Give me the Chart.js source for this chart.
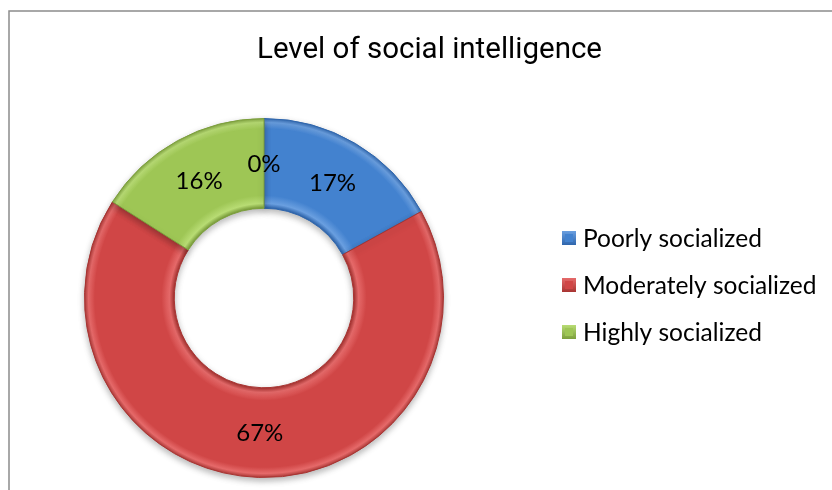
<!DOCTYPE html>
<html><head><meta charset="utf-8">
<script src="https://cdn.jsdelivr.net/npm/chart.js@4.4.0/dist/chart.umd.min.js"></script>
<style>html,body{margin:0;padding:0;background:#fff}#wrap{position:relative;width:832px;height:490px}</style>
</head><body><div id="wrap"><canvas id="c" width="832" height="490"></canvas></div>
<script>
const categories = ['Poorly socialized', 'Moderately socialized', 'Highly socialized', ''];
const values = [17, 67, 16, 0];
const valueLabels = ['17%', '67%', '16%', '0%'];
const colors = ['#4382cf', '#d04646', '#9ec655', '#9ec655'];
const lightColors = ['#6a9fe0', '#e66a6a', '#b8dc74', '#b8dc74'];
const darkColors = ['#2f66ad', '#a83432', '#7c9f3c', '#7c9f3c'];
const titleText = 'Level of social intelligence';

function ringGradient(context) {
  const chart = context.chart;
  const i = context.dataIndex;
  const a = chart.chartArea;
  if (!a) return colors[i];
  const cx = (a.left + a.right) / 2, cy = (a.top + a.bottom) / 2;
  const outer = Math.min(a.right - a.left, a.bottom - a.top) / 2;
  const inner = outer * 0.5;
  const g = chart.ctx.createRadialGradient(cx, cy, inner, cx, cy, outer);
  g.addColorStop(0, darkColors[i]);
  g.addColorStop(0.05, lightColors[i]);
  g.addColorStop(0.14, colors[i]);
  g.addColorStop(0.88, colors[i]);
  g.addColorStop(0.95, lightColors[i]);
  g.addColorStop(1, darkColors[i]);
  return g;
}

const framePlugin = {
  id: 'frame',
  beforeDraw(chart) {
    const ctx = chart.ctx;
    ctx.save();
    ctx.fillStyle = '#fff';
    ctx.fillRect(0, 0, chart.width, chart.height);
    ctx.strokeStyle = '#8c8c8c';
    ctx.lineWidth = 1.5;
    ctx.strokeRect(9, 11, chart.width + 20, chart.height + 20);
    // title, condensed to the reference width
    ctx.fillStyle = '#000';
    ctx.font = '29px Roboto, "Liberation Sans", Arial, sans-serif';
    ctx.textAlign = 'center';
    ctx.textBaseline = 'alphabetic';
    const w = ctx.measureText(titleText).width;
    const sx = 345 / w;
    ctx.save();
    ctx.translate(429.5, 58);
    ctx.scale(sx, 1);
    ctx.fillText(titleText, 0, 0);
    ctx.restore();
    // legend
    ctx.font = '24.5px Lato, "Open Sans", sans-serif';
    ctx.textAlign = 'left';
    ctx.textBaseline = 'middle';
    let row = 0;
    categories.forEach((c, i) => {
      if (!c) return;
      const y = 238 + row * 47;
      const lg = ctx.createLinearGradient(562, y - 7, 562, y + 7);
      lg.addColorStop(0, lightColors[i]);
      lg.addColorStop(1, darkColors[i]);
      ctx.fillStyle = lg;
      ctx.fillRect(562, y - 7, 14, 14);
      ctx.fillStyle = colors[i];
      ctx.fillRect(565, y - 4, 8, 8);
      ctx.fillStyle = '#000';
      ctx.fillText(c, 583, y + 1);
      row++;
    });
    ctx.restore();
  },
  beforeDatasetsDraw(chart) {
    const ctx = chart.ctx;
    ctx.save();
    ctx.shadowColor = 'rgba(0,0,0,0.28)';
    ctx.shadowBlur = 6;
    ctx.shadowOffsetY = 3;
  },
  afterDatasetsDraw(chart) {
    chart.ctx.restore();
  }
};

const labelPlugin = {
  id: 'vlabels',
  afterDatasetsDraw(chart) {
    const ctx = chart.ctx;
    const meta = chart.getDatasetMeta(0);
    ctx.save();
    ctx.fillStyle = '#000';
    ctx.font = '24px Lato, "Open Sans", sans-serif';
    ctx.textAlign = 'center';
    ctx.textBaseline = 'middle';
    meta.data.forEach((arc, i) => {
      const p = arc.tooltipPosition();
      ctx.fillText(valueLabels[i], p.x, p.y + 1);
    });
    ctx.restore();
  }
};

new Chart(document.getElementById('c'), {
  type: 'doughnut',
  data: {
    labels: categories,
    datasets: [{
      data: values,
      backgroundColor: ringGradient,
      borderColor: darkColors,
      borderWidth: 1
    }]
  },
  options: {
    responsive: false,
    animation: false,
    devicePixelRatio: 1,
    cutout: '50%',
    layout: { padding: { left: 84, right: 388, top: 118, bottom: 12 } },
    plugins: { legend: { display: false }, tooltip: { enabled: false }, title: { display: false } }
  },
  plugins: [framePlugin, labelPlugin]
});
</script></body></html>
